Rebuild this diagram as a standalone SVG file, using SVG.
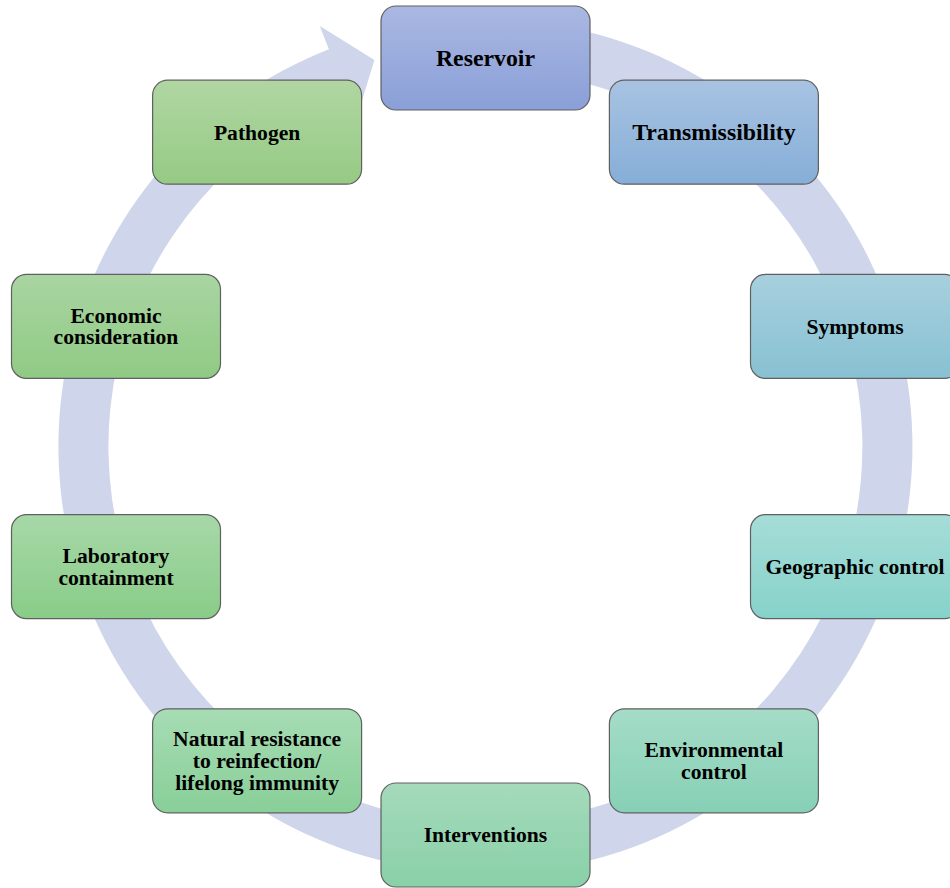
<svg xmlns="http://www.w3.org/2000/svg" width="950" height="888" viewBox="0 0 950 888">
<style>
.box{stroke:#606060;stroke-width:1.2}
.t{font-family:"Liberation Serif","Times New Roman",serif;font-weight:bold;font-size:21.6px;fill:#000;text-anchor:middle}
.tl{font-size:23.8px}
</style>
<defs>
<linearGradient id="g0" x1="0" y1="0" x2="0" y2="1"><stop offset="0" stop-color="#aab8e2"/><stop offset="1" stop-color="#8a9fd8"/></linearGradient>
<linearGradient id="g1" x1="0" y1="0" x2="0" y2="1"><stop offset="0" stop-color="#a8c3e2"/><stop offset="1" stop-color="#86aed8"/></linearGradient>
<linearGradient id="g2" x1="0" y1="0" x2="0" y2="1"><stop offset="0" stop-color="#a7d0de"/><stop offset="1" stop-color="#87c1d2"/></linearGradient>
<linearGradient id="g3" x1="0" y1="0" x2="0" y2="1"><stop offset="0" stop-color="#a6ddd8"/><stop offset="1" stop-color="#86d2ca"/></linearGradient>
<linearGradient id="g4" x1="0" y1="0" x2="0" y2="1"><stop offset="0" stop-color="#a5dcc8"/><stop offset="1" stop-color="#86d0b6"/></linearGradient>
<linearGradient id="g5" x1="0" y1="0" x2="0" y2="1"><stop offset="0" stop-color="#a5dabb"/><stop offset="1" stop-color="#89d0a8"/></linearGradient>
<linearGradient id="g6" x1="0" y1="0" x2="0" y2="1"><stop offset="0" stop-color="#a7dcb4"/><stop offset="1" stop-color="#88cf98"/></linearGradient>
<linearGradient id="g7" x1="0" y1="0" x2="0" y2="1"><stop offset="0" stop-color="#a7d8a8"/><stop offset="1" stop-color="#89cc88"/></linearGradient>
<linearGradient id="g8" x1="0" y1="0" x2="0" y2="1"><stop offset="0" stop-color="#a9d5a2"/><stop offset="1" stop-color="#90ca84"/></linearGradient>
<linearGradient id="g9" x1="0" y1="0" x2="0" y2="1"><stop offset="0" stop-color="#b0d6a2"/><stop offset="1" stop-color="#96ca84"/></linearGradient>
</defs>
<rect width="950" height="888" fill="#ffffff"/>
<g id="connectors">
<path d="M522.7,21.1 A427,427 0 1 1 328.9,49.2 L319.8,26.0 L374.4,60.1 L356.4,119.0 L347.2,95.7 A377,377 0 1 0 518.4,70.9 Z" fill="#cfd5ea"/>
</g>
<g id="n0"><rect class="box" x="381" y="6" width="209" height="104" rx="15" fill="url(#g0)"/><text class="t tl" x="485.5" y="66.3">Reservoir</text></g>
<g id="n1"><rect class="box" x="609.4" y="80.2" width="209" height="104" rx="15" fill="url(#g1)"/><text class="t tl" x="713.9" y="140.3">Transmissibility</text></g>
<g id="n2"><rect class="box" x="750.5" y="274.4" width="209" height="104" rx="15" fill="url(#g2)"/><text class="t" x="855" y="333.7">Symptoms</text></g>
<g id="n3"><rect class="box" x="750.5" y="514.6" width="209" height="104" rx="15" fill="url(#g3)"/><text class="t" x="855" y="573.7">Geographic control</text></g>
<g id="n4"><rect class="box" x="609.4" y="708.8" width="209" height="104" rx="15" fill="url(#g4)"/><text class="t" x="713.9" y="757">Environmental</text><text class="t" x="713.9" y="778.8">control</text></g>
<g id="n5"><rect class="box" x="381" y="783" width="209" height="104" rx="15" fill="url(#g5)"/><text class="t" x="485.5" y="841.9">Interventions</text></g>
<g id="n6"><rect class="box" x="152.6" y="708.8" width="209" height="104" rx="15" fill="url(#g6)"/><text class="t" x="257.1" y="746.2">Natural resistance</text><text class="t" x="257.1" y="767.9">to reinfection/</text><text class="t" x="257.1" y="789.6">lifelong immunity</text></g>
<g id="n7"><rect class="box" x="11.5" y="514.6" width="209" height="104" rx="15" fill="url(#g7)"/><text class="t" x="116" y="562.8">Laboratory</text><text class="t" x="116" y="584.6">containment</text></g>
<g id="n8"><rect class="box" x="11.5" y="274.4" width="209" height="104" rx="15" fill="url(#g8)"/><text class="t" x="116" y="322.6">Economic</text><text class="t" x="116" y="344.4">consideration</text></g>
<g id="n9"><rect class="box" x="152.6" y="80.2" width="209" height="104" rx="15" fill="url(#g9)"/><text class="t" x="257.1" y="139.7">Pathogen</text></g>
</svg>
